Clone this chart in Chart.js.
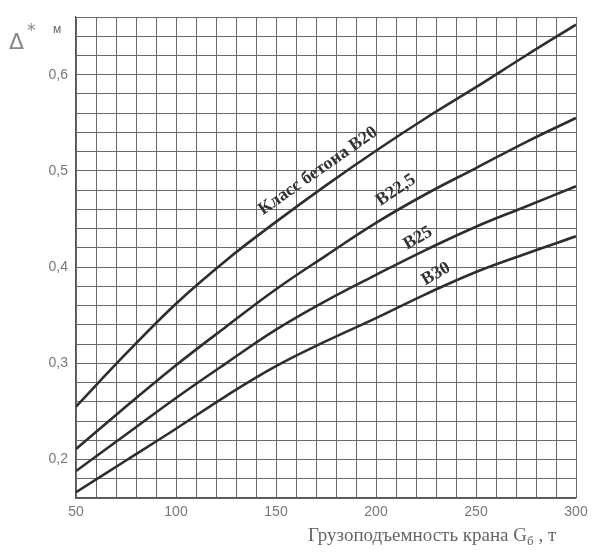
<!DOCTYPE html>
<html>
<head>
<meta charset="utf-8">
<script src="https://cdn.jsdelivr.net/npm/chart.js@4/dist/chart.umd.min.js"></script>
<style>
  html, body { margin: 0; padding: 0; background: #fff; }
  #wrap { width: 600px; height: 558px; }
</style>
</head>
<body>
<div id="wrap"><canvas id="chart"></canvas></div>
<script>
// crane capacity, t
const capacity = [50, 75, 100, 125, 150, 175, 200, 225, 250, 275, 300];
// Δ*, m, per concrete class
const b20 = [0.255, 0.310, 0.362, 0.407, 0.447, 0.485, 0.521, 0.555, 0.587, 0.620, 0.652];
const b225 = [0.211, 0.255, 0.298, 0.338, 0.377, 0.412, 0.446, 0.476, 0.503, 0.530, 0.555];
const b25 = [0.188, 0.226, 0.264, 0.300, 0.335, 0.365, 0.392, 0.418, 0.442, 0.463, 0.484];
const b30 = [0.166, 0.199, 0.232, 0.266, 0.297, 0.323, 0.347, 0.372, 0.395, 0.414, 0.432];

const xLabels = [50, 100, 150, 200, 250, 300];
const yLabels = [0.2, 0.3, 0.4, 0.5, 0.6];

// curve captions: text, x, y (data), angle in degrees
const captions = [
  ['Класс бетона B20', 171, 0.500, -35],
  ['B22,5', 210, 0.480, -34],
  ['B25', 221, 0.430, -30],
  ['B30', 230, 0.393, -30]
];

function series(values) {
  return capacity.map((x, i) => ({ x: x, y: values[i] }));
}

function lineSet(values) {
  return {
    data: series(values),
    borderColor: '#2e2e2e',
    borderWidth: 2.6,
    pointRadius: 0,
    fill: false,
    tension: 0.4
  };
}

const textPlugin = {
  id: 'texts',
  afterDraw(chart) {
    const ctx = chart.ctx;
    const xs = chart.scales.x, ys = chart.scales.y;
    ctx.save();
    ctx.fillStyle = '#333';
    ctx.font = 'bold 18px "Liberation Serif", serif';
    ctx.textAlign = 'center';
    ctx.textBaseline = 'middle';
    captions.forEach(c => {
      ctx.save();
      ctx.translate(xs.getPixelForValue(c[1]), ys.getPixelForValue(c[2]));
      ctx.rotate(c[3] * Math.PI / 180);
      ctx.fillText(c[0], 0, 0);
      ctx.restore();
    });

    // y axis name
    ctx.textBaseline = 'alphabetic';
    ctx.fillStyle = '#888';
    ctx.textAlign = 'left';
    ctx.font = '22px "DejaVu Sans", sans-serif';
    ctx.fillText('\u0394', 9, 49);
    ctx.font = '17px "DejaVu Sans", sans-serif';
    ctx.fillText('*', 27, 36);
    ctx.fillStyle = '#666';
    ctx.font = '12px "Liberation Sans", sans-serif';
    ctx.fillText('м', 53, 33);

    // x axis name
    ctx.fillStyle = '#666';
    ctx.font = '19px "Liberation Serif", serif';
    let x = 308;
    const base = 541;
    const t1 = 'Грузоподъемность крана G';
    ctx.fillText(t1, x, base);
    x += ctx.measureText(t1).width;
    ctx.font = '13px "Liberation Serif", serif';
    ctx.fillText('б', x, base + 4);
    x += ctx.measureText('б').width;
    ctx.font = '19px "Liberation Serif", serif';
    ctx.fillText(' , т', x, base);
    ctx.restore();
  }
};

new Chart(document.getElementById('chart'), {
  type: 'line',
  data: { datasets: [lineSet(b20), lineSet(b225), lineSet(b25), lineSet(b30)] },
  options: {
    responsive: true,
    maintainAspectRatio: false,
    animation: false,
    layout: { padding: { top: 17, right: 24, bottom: 0, left: 0 } },
    plugins: { legend: { display: false }, tooltip: { enabled: false } },
    scales: {
      x: {
        type: 'linear',
        min: 50,
        max: 300,
        afterFit(scale) { scale.height = 60; },
        border: { display: true, color: '#555', width: 1.2 },
        grid: { color: '#6a6a6a', lineWidth: 1, drawTicks: false },
        ticks: {
          stepSize: 10,
          autoSkip: false,
          maxRotation: 0,
          padding: 6,
          color: '#777',
          font: { family: '"Liberation Sans", sans-serif', size: 14 },
          callback: v => xLabels.includes(Math.round(v)) ? String(Math.round(v)) : ''
        }
      },
      y: {
        min: 0.16,
        max: 0.66,
        afterFit(scale) { scale.width = 76; },
        border: { display: true, color: '#555', width: 1.2 },
        grid: { color: '#6a6a6a', lineWidth: 1, drawTicks: false },
        ticks: {
          stepSize: 0.02,
          autoSkip: false,
          padding: 8,
          color: '#777',
          font: { family: '"Liberation Sans", sans-serif', size: 14 },
          callback: v => {
            const r = Math.round(v * 100) / 100;
            return yLabels.some(l => Math.abs(l - r) < 1e-6) ? r.toFixed(1).replace('.', ',') : '';
          }
        }
      }
    }
  },
  plugins: [textPlugin]
});
</script>
</body>
</html>
